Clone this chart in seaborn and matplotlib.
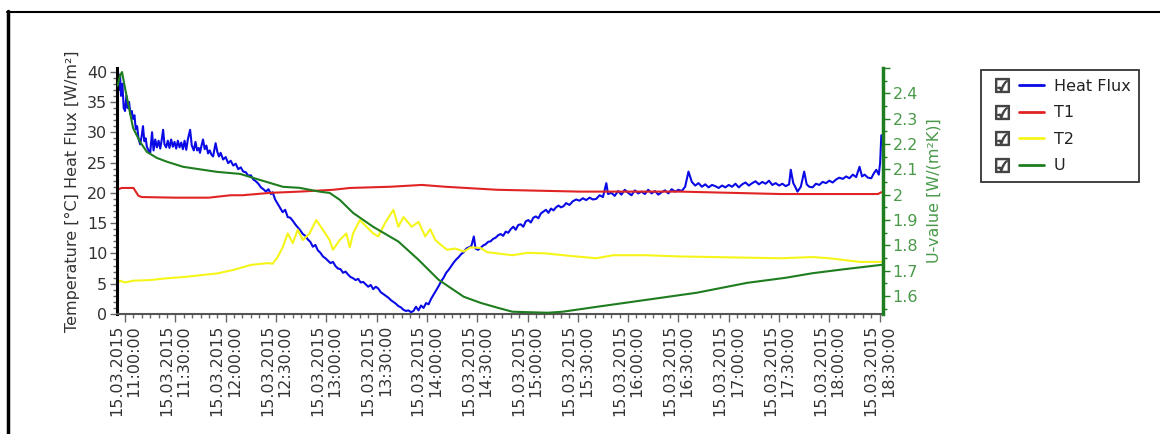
import numpy as np
import pandas as pd
import matplotlib
matplotlib.use("Agg")
import matplotlib.pyplot as plt
import matplotlib.dates as mdates
from matplotlib.lines import Line2D
from matplotlib.ticker import MultipleLocator
from matplotlib.legend_handler import HandlerTuple
import seaborn as sns

# ---------------- data (minutes after 15.03.2015 11:00:00) ----------------
start = pd.Timestamp("2015-03-15 11:00:00")

hf_min = [-4.8, -4.2, -3.6, -3.0, -2.4, -1.6, -0.8, 0.0, 0.8, 1.6, 2.4, 3.2, 4.0, 4.8, 5.6, 6.4, 7.2, 8.0,
          9.0, 10.0, 10.7, 11.5, 12.3, 13.0, 14.0, 15.0, 16.1, 17.0, 18.0, 19.0, 20.0, 21.0, 22.0, 22.7,
          23.5, 24.5, 25.5, 26.5, 27.5, 28.5, 29.5, 30.5, 31.5, 32.5, 33.5, 34.5, 35.5, 36.5, 37.5, 38.8,
          39.8, 41.0, 42.0, 43.0, 44.0, 44.7, 45.6, 46.5, 47.5, 48.5, 49.5, 50.5, 51.5, 52.5, 53.3, 54.0,
          55.0, 56.0, 57.0, 58.5, 60.0, 61.5, 63.0, 64.5, 66.0, 67.5, 69.0, 70.5, 72.0, 73.5, 75.0, 76.5,
          78.0, 79.5, 81.0, 82.5, 84.0, 85.5, 87.0, 88.0, 89.5, 91.0, 92.5, 94.0, 95.5, 97.0, 98.5, 100.0,
          101.5, 103.0, 104.5, 106.0, 107.5, 109.0, 110.5, 112.0, 113.5, 115.0, 116.5, 118.0, 119.5, 121.0,
          122.5, 124.0, 125.5, 127.0, 128.5, 130.0, 131.5, 133.0, 134.5, 136.0, 137.5, 139.0, 140.5, 142.0,
          143.5, 145.0, 146.5, 148.0, 149.5, 151.0, 152.5, 154.0, 155.5, 157.0, 158.5, 160.0, 161.5, 163.0,
          164.5, 166.0, 167.5, 169.0, 170.5, 172.0, 173.5, 175.0, 176.5, 178.0, 179.5, 181.0, 182.5, 184.0,
          185.5, 187.0, 188.5, 190.0, 191.5, 193.0, 194.5, 196.0, 197.5, 199.0, 200.5, 202.0, 203.5, 205.0,
          206.5, 208.0, 209.0, 210.5, 212.0, 213.5, 215.0, 216.5, 218.0, 219.5, 221.0, 222.5, 224.0, 225.5,
          227.0, 228.5, 230.0, 231.5, 233.0, 234.5, 236.0, 237.5, 239.0, 240.5, 242.0, 243.5, 245.0, 246.5,
          248.0, 249.5, 251.0, 252.5, 254.0, 255.5, 257.0, 258.5, 260.0, 261.5, 263.0, 265.0, 267.0, 269.0,
          271.0, 273.0, 275.0, 277.0, 279.0, 281.0, 283.0, 285.0, 287.0, 288.0, 290.0, 292.0, 294.0, 296.0,
          298.0, 300.0, 302.0, 304.0, 306.0, 308.0, 310.0, 312.0, 314.0, 316.0, 318.0, 320.0, 322.0, 324.0,
          326.0, 328.0, 330.0, 332.0, 334.0, 336.0, 338.0, 340.0, 342.0, 344.0, 346.0, 348.0, 350.0, 352.0,
          354.0, 356.0, 358.0, 360.0, 362.0, 364.0, 366.0, 368.0, 370.0, 372.0, 374.0, 376.0, 378.0, 380.0,
          382.0, 384.0, 386.0, 388.0, 390.0, 392.0, 394.0, 396.0, 397.0, 398.5, 400.0, 401.0, 403.0, 405.0,
          406.5, 408.0, 410.0, 412.0, 414.0, 416.0, 418.0, 420.0, 422.0, 424.0, 426.0, 428.0, 430.0, 432.0,
          434.0, 436.0, 438.0, 439.5, 441.0, 443.0, 445.0, 446.5, 448.0, 449.5, 450.3, 451.0]
hf_val = [38, 40, 37, 39.5, 36, 38, 34, 33.5, 36, 34, 35, 33, 33.5, 32.2, 32.8, 30.5, 31, 29,
          28, 29.5, 31, 28.5, 29, 27.6, 27, 26.6, 30, 27, 28.8, 27.5, 28.6, 27.3, 29, 30.4,
          28, 27.5, 28.6, 27.4, 28.8, 27.6, 28.4, 27.3, 28.6, 27.5, 28.3, 27.2, 28.6, 27.1, 28.9, 30.4,
          27.8, 27, 28.4, 27, 27.4, 26.6, 27.8, 28.8, 27.2, 27.8, 26.5, 27, 26.3, 26, 27.2, 28.2,
          26.8, 26, 26.6, 25.5, 25.9, 24.9, 25.3, 24.5, 24.8, 23.9, 24.2, 23.5, 23.4, 22.8, 22.9, 22.2,
          21.9, 21.5, 20.9, 20.6, 20.2, 20.6, 19.8, 20.1, 18.9, 18.2, 17.5, 16.8, 17.2, 16.0, 15.9, 15.4,
          14.8, 14.3, 13.8, 13.2, 12.9, 12.3, 11.9, 11.1, 11.4, 10.5, 10.1, 9.5, 9.2, 8.8,
          8.4, 8.6, 7.9, 7.5, 7.4, 6.8, 7.0, 6.5, 6.1, 5.9, 5.6, 5.8, 5.2, 5.3,
          4.9, 4.5, 4.8, 4.1, 4.5, 4.2, 3.6, 3.3, 3.0, 2.7, 2.3, 2.0, 1.7, 1.3,
          1.1, 0.7, 0.5, 0.6, 0.3, 0.5, 1.2, 0.6, 1.4, 1.0, 1.8, 1.6, 2.5, 3.2,
          3.9, 4.6, 5.4, 6.0, 6.8, 7.3, 7.9, 8.5, 9.0, 9.4, 9.9, 10.2, 10.8, 11.0,
          11.2, 12.8, 10.8, 10.6, 10.9, 11.3, 11.5, 11.9, 12.0, 12.4, 12.6, 13.0, 13.2, 12.9,
          13.6, 13.4, 14.0, 14.4, 13.9, 14.7, 14.8, 14.4, 15.3, 15.5, 15.1, 15.9, 16.1, 15.8,
          16.6, 16.9, 17.2, 16.7, 17.4, 17.1, 17.6, 17.9, 17.6, 17.8, 18.3, 18.0, 18.6, 18.9,
          18.7, 19.1, 18.8, 19.2, 18.9, 19.0, 19.6, 19.3, 21.6, 19.8, 20.0, 19.5, 20.3, 19.7,
          20.5, 20.0, 19.6, 20.4, 19.9, 20.2, 19.8, 20.5, 19.9, 20.3, 19.7, 20.1, 20.4, 19.9,
          20.6, 20.2, 20.5, 20.3, 21.0, 23.5, 21.8, 21.2, 21.6, 21.0, 21.4, 20.9, 21.3, 21.1,
          20.8, 21.2, 20.9, 21.3, 21.0, 21.5, 20.9, 21.4, 21.7, 21.2, 21.6, 21.9, 21.4, 21.8,
          21.5, 22.0, 21.3, 21.6, 21.2, 21.5, 21.1, 21.4, 23.8, 21.6, 20.8, 20.2, 21.0, 23.5,
          21.4, 21.0, 20.9, 21.5, 21.3, 21.8, 21.6, 22.0, 21.7, 22.2, 22.5, 22.3, 22.7, 22.4,
          23.0, 22.6, 24.3, 22.7, 23.0, 22.5, 22.4, 23.2, 23.8, 23.0, 25.0, 29.5]

t1_min = [-4.8, -2, 5, 8, 10, 30, 50, 63, 70, 87, 104, 124, 134, 158, 177, 191, 222, 271, 331, 361,
          391, 440, 449, 451]
t1_val = [20.5, 20.8, 20.8, 19.5, 19.3, 19.2, 19.2, 19.6, 19.6, 20.0, 20.2, 20.5, 20.8, 21.0, 21.3,
          21.0, 20.5, 20.2, 20.2, 20.0, 19.8, 19.8, 19.8, 20.1]

t2_min = [-4.8, -3, 0, 5, 15, 25, 35, 45, 55, 65, 75, 85, 88, 91, 94, 97, 100, 103, 106, 110, 114,
          118, 122, 124, 128, 132, 134, 136, 140, 144, 148, 151, 155, 160, 163, 166, 171, 175, 179, 182,
          185, 188, 192, 197, 202, 206, 212, 216, 222, 231, 240, 251, 265, 281, 291, 311, 330, 351, 370,
          391, 410, 420, 438, 451]
t2_val = [5.0, 5.5, 5.2, 5.5, 5.6, 5.9, 6.1, 6.4, 6.7, 7.3, 8.1, 8.4, 8.3, 9.4, 11.0, 13.3, 11.7, 13.9,
          12.2, 13.3, 15.5, 13.9, 12.2, 10.6, 12.2, 13.3, 11.0, 13.3, 15.5, 14.4, 13.3, 12.8, 15.0, 17.2,
          14.4, 16.0, 14.4, 15.2, 12.8, 14.0, 12.2, 11.5, 10.6, 10.8, 10.3, 11.0, 10.9, 10.2, 10.0, 9.7,
          10.1, 10.0, 9.6, 9.2, 9.7, 9.7, 9.5, 9.4, 9.3, 9.2, 9.4, 9.2, 8.6, 8.6]

u_min = [-4.5, -3, -1.8, 0, 4.8, 9, 13, 19, 25, 34.6, 44.7, 54.8, 68.6, 80.5, 94.2, 104, 116, 122, 128,
         136, 148, 163, 175, 187, 202, 212, 222, 231, 252, 261, 282, 311, 341, 371, 394, 410, 428, 451]
u_val = [2.43, 2.47, 2.484, 2.42, 2.263, 2.208, 2.169, 2.145, 2.13, 2.11, 2.10, 2.09, 2.082, 2.058,
         2.031, 2.027, 2.012, 2.007, 1.98, 1.928, 1.873, 1.815, 1.743, 1.664, 1.597, 1.573, 1.554, 1.538,
         1.534, 1.538, 1.558, 1.585, 1.613, 1.652, 1.672, 1.69, 1.705, 1.723]

series_names = ["Heat Flux", "T1", "T2", "U"]
series_colors = ["#0a0ae6", "#e02424", "#f5f51a", "#1e7d1e"]


def frame(mins, vals):
    return pd.DataFrame({"time": start + pd.to_timedelta(mins, unit="min"), "value": vals})


# ---------------- style ----------------
sns.set_theme(style="white")
plt.rcParams["font.family"] = ["DejaVu Sans"]
FS = 11.5

fig = plt.figure(figsize=(11.6, 4.34), dpi=100)
L, R, T, B = 117, 883, 68, 314
ax = fig.add_axes([L / 1160, 1 - B / 434, (R - L) / 1160, (B - T) / 434])
ax2 = ax.twinx()

lw = 1.5
sns.lineplot(data=frame(hf_min, hf_val), x="time", y="value", ax=ax, color=series_colors[0],
             lw=lw, estimator=None)
sns.lineplot(data=frame(t1_min, t1_val), x="time", y="value", ax=ax, color=series_colors[1],
             lw=lw, estimator=None)
sns.lineplot(data=frame(t2_min, t2_val), x="time", y="value", ax=ax, color=series_colors[2],
             lw=lw, estimator=None)
sns.lineplot(data=frame(u_min, u_val), x="time", y="value", ax=ax2, color=series_colors[3],
             lw=lw, estimator=None)

ax.set_xlim(start + pd.Timedelta(minutes=-4.8), start + pd.Timedelta(minutes=452))
ax.set_ylim(0, 40.6)
ax2.set_ylim(1.529, 2.50)

# x axis
ax.xaxis.set_major_locator(mdates.MinuteLocator(byminute=[0, 30]))
ax.xaxis.set_minor_locator(mdates.MinuteLocator(byminute=range(0, 60, 5)))
ax.xaxis.set_major_formatter(mdates.DateFormatter("%d.%m.%Y\n%H:%M:%S"))
ax.tick_params(axis="x", which="major", length=6, width=1, color="#666", labelsize=FS,
               labelcolor="#333", pad=2, bottom=True)
ax.tick_params(axis="x", which="minor", length=3, width=1, color="#666", bottom=True)

# left y axis
ax.yaxis.set_major_locator(MultipleLocator(5))
ax.yaxis.set_minor_locator(MultipleLocator(1))
ax.tick_params(axis="y", which="major", length=5, width=1, color="#666", labelsize=FS,
               labelcolor="#333", pad=2, left=True)
ax.tick_params(axis="y", which="minor", length=3, width=1, color="#666", left=True)
ax.set_ylabel("Temperature [°C] Heat Flux [W/m²]", fontsize=FS, color="#333", labelpad=5)
ax.set_xlabel("")

# right y axis
ugreen = "#1e7d1e"
ax2.yaxis.set_major_locator(MultipleLocator(0.1))
ax2.yaxis.set_minor_locator(MultipleLocator(0.05))
ax2.yaxis.set_major_formatter(plt.FuncFormatter(lambda v, p: f"{v:g}" if 1.55 < v < 2.45 else ""))
ax2.tick_params(axis="y", which="major", length=5, width=1, color=ugreen, labelsize=FS,
                labelcolor="#4a9a4a", pad=2, right=True)
ax2.tick_params(axis="y", which="minor", length=3, width=1, color=ugreen, right=True)
ax2.set_ylabel("U-value [W/(m²K)]", fontsize=FS, color="#4a9a4a", labelpad=6)

# spines
for s in ["top", "right"]:
    ax.spines[s].set_visible(False)
ax.spines["left"].set_color("black")
ax.spines["left"].set_linewidth(2.2)
ax.spines["bottom"].set_color("#555")
ax.spines["bottom"].set_linewidth(1.5)
for s in ["top", "left", "bottom"]:
    ax2.spines[s].set_visible(False)
ax2.spines["right"].set_color(ugreen)
ax2.spines["right"].set_linewidth(2.5)

fig.canvas.draw()
for lbl in ax.get_xticklabels():
    lbl.set_rotation(90)
    lbl.set_multialignment("right")
    lbl.set_horizontalalignment("center")
    lbl.set_verticalalignment("top")

# legend with check boxes
handles = []
for c in series_colors:
    box = Line2D([], [], ls="none", marker="$\u2611$", markersize=10, color="#444")
    line = Line2D([], [], color=c, lw=2.0)
    handles.append((box, line))
leg = fig.legend(handles, series_names, loc="upper left", bbox_to_anchor=(981 / 1160, 1 - 70 / 434),
                 handler_map={tuple: HandlerTuple(ndivide=None, pad=0.3)}, handlelength=3.4,
                 fontsize=FS, frameon=True, fancybox=False, edgecolor="black", borderpad=0.55,
                 labelspacing=0.72, handletextpad=0.6, borderaxespad=0)
leg.get_frame().set_linewidth(1.3)
for t in leg.get_texts():
    t.set_color("#222")

# outer frame lines
fig.add_artist(Line2D([7 / 1160, 1.0], [1 - 11.5 / 434, 1 - 11.5 / 434], transform=fig.transFigure,
                      color="black", lw=1.5))
fig.add_artist(Line2D([8 / 1160, 8 / 1160], [0, 1 - 11 / 434], transform=fig.transFigure,
                      color="black", lw=2.5))

fig.savefig("out.png", dpi=100, facecolor="white")
